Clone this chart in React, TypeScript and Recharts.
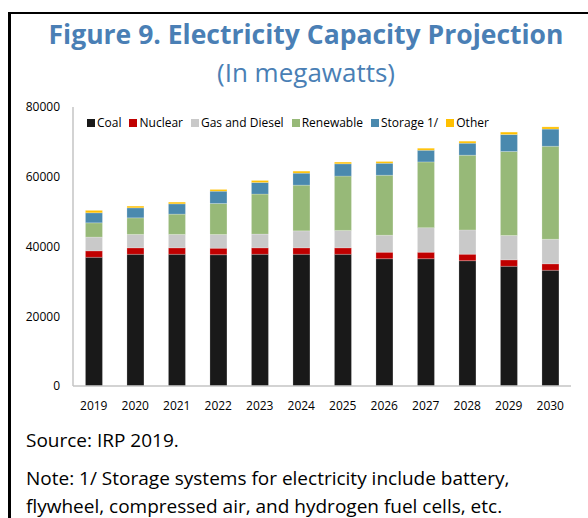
import React from "react";
import { BarChart, Bar, XAxis, YAxis, Legend } from "recharts";

// Installed capacity by source, MW
const years = ["2019", "2020", "2021", "2022", "2023", "2024", "2025", "2026", "2027", "2028", "2029", "2030"];
const coal = [36900, 37760, 37760, 37650, 37760, 37760, 37760, 36500, 36500, 35930, 34320, 33180];
const nuclear = [1860, 1860, 1860, 1860, 1860, 1860, 1860, 1860, 1860, 1860, 1860, 1860];
const gasDiesel = [3930, 3840, 3840, 3930, 3930, 4870, 4990, 4870, 7050, 6970, 6970, 7030];
const renewable = [4100, 4760, 5820, 8890, 11470, 13100, 15570, 17200, 18840, 21420, 24090, 26670];
const storage = [2870, 2870, 2950, 3530, 3350, 3440, 3530, 3440, 3350, 3440, 4870, 4930];
const other = [690, 490, 490, 490, 570, 570, 490, 490, 570, 570, 690, 630];
const yTicks = [0, 20000, 40000, 60000, 80000];

const series = [
  { key: "coal", name: "Coal", color: "#191919", values: coal },
  { key: "nuclear", name: "Nuclear", color: "#c00000", values: nuclear },
  { key: "gas", name: "Gas and Diesel", color: "#c9c9c9", values: gasDiesel },
  { key: "renewable", name: "Renewable", color: "#97b978", values: renewable },
  { key: "storage", name: "Storage 1/", color: "#4a89ae", values: storage },
  { key: "other", name: "Other", color: "#ffc000", values: other },
];

const data = years.map((year, i) => {
  const row: Record<string, string | number> = { year };
  series.forEach((s) => (row[s.key] = s.values[i]));
  return row;
});

const FONT = "'Open Sans', 'Noto Sans', sans-serif";
const BLUE = "#4a7fb5";

const LegendContent = () => (
  <div style={{ display: "flex", fontSize: 12, color: "#000", fontFamily: FONT, whiteSpace: "nowrap" }}>
    {series.map((s) => (
      <span key={s.key} style={{ display: "flex", alignItems: "center", marginRight: 8 }}>
        <span style={{ width: 8, height: 8, background: s.color, marginRight: 2, display: "inline-block" }} />
        {s.name}
      </span>
    ))}
  </div>
);

export default function App() {
  return (
    <div style={{ position: "absolute", left: 0, top: 0, width: 588, height: 518, overflow: "hidden", background: "#fff", fontFamily: FONT }}>
      <div style={{ position: "absolute", left: 8, top: 12, width: 700, height: 600, borderLeft: "3px solid #000", borderTop: "2px solid #000" }} />
      <div style={{ position: "absolute", left: 11, top: 16, width: 590, textAlign: "center", color: BLUE }}>
        <div style={{ fontSize: 26.5, fontWeight: 700, lineHeight: "36px" }}>Figure 9. Electricity Capacity Projection</div>
        <div style={{ fontSize: 26, lineHeight: "36px", marginTop: 2 }}>(In megawatts)</div>
      </div>
      <div style={{ position: "absolute", left: 0, top: 0 }}>
        <BarChart
          width={588}
          height={420}
          data={data}
          margin={{ top: 107, right: 17, bottom: 4, left: 13 }}
          barCategoryGap="30%"
          style={{ fontFamily: FONT }}
        >
          <XAxis
            dataKey="year"
            height={30}
            tickLine={false}
            tickSize={13}
            axisLine={{ stroke: "#c4c4c4", strokeWidth: 1.5 }}
            tick={{ fill: "#000", fontSize: 12 }}
            interval={0}
          />
          <XAxis xAxisId="top" dataKey="year" orientation="top" height={0} tick={false} tickLine={false} axisLine={{ stroke: "#d9d9d9" }} />
          <YAxis
            width={60}
            domain={[0, 80000]}
            ticks={yTicks}
            tickLine={false}
            tickSize={11}
            axisLine={{ stroke: "#c4c4c4", strokeWidth: 1.5 }}
            tick={{ fill: "#000", fontSize: 12 }}
          />
          <YAxis yAxisId="right" orientation="right" width={0} domain={[0, 80000]} tick={false} tickLine={false} axisLine={{ stroke: "#d9d9d9" }} />
          <Legend
            layout="horizontal"
            verticalAlign="middle"
            align="center"
            content={<LegendContent />}
            wrapperStyle={{ top: 114, left: 87, width: "auto", height: "auto" }}
          />
          {series.map((s) => (
            <Bar key={s.key} dataKey={s.key} name={s.name} stackId="cap" fill={s.color} stroke="#ffffff" strokeOpacity={0.35} strokeWidth={0.6} isAnimationActive={false} />
          ))}
        </BarChart>
      </div>
      <div style={{ position: "absolute", left: 26, top: 426, fontSize: 19, color: "#000", lineHeight: "28px" }}>
        <div>Source: IRP 2019.</div>
        <div style={{ marginTop: 10 }}>Note: 1/ Storage systems for electricity include battery,</div>
        <div>flywheel, compressed air, and hydrogen fuel cells, etc.</div>
      </div>
    </div>
  );
}
